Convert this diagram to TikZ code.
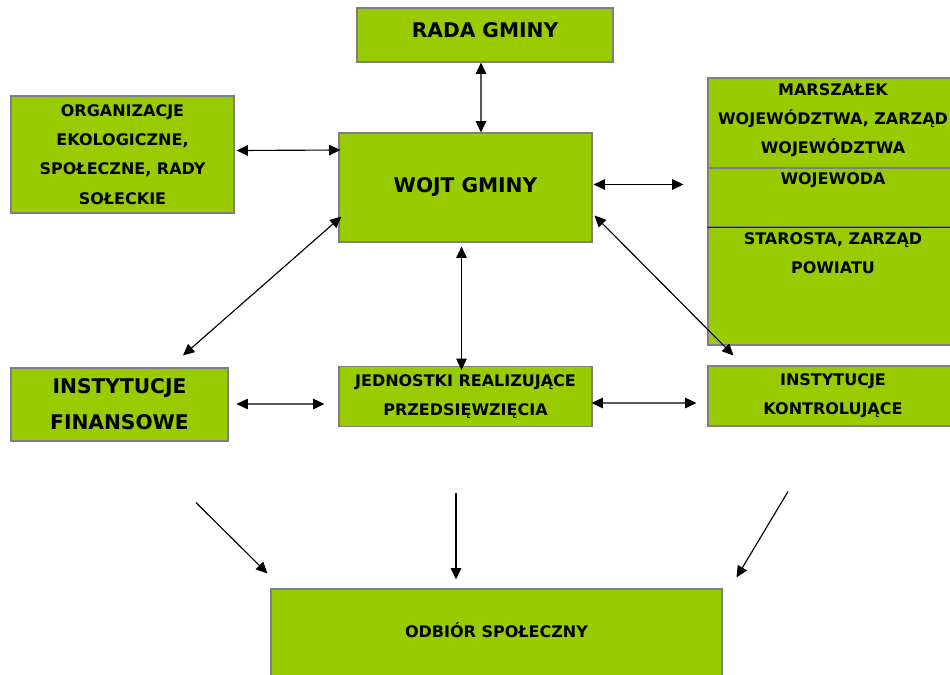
\documentclass[tikz,border=0pt]{standalone}
\usepackage{fontspec}
\setmainfont{DejaVu Sans}
\usetikzlibrary{arrows.meta,calc}
\definecolor{boxgreen}{HTML}{99CC00}
\definecolor{boxline}{HTML}{7F7F7F}
\def\px{0.02cm}
\newcommand\smallbold{\fontsize{9.1}{16.6}\selectfont\bfseries}
\newcommand\bigbold{\fontsize{11.5}{20.5}\selectfont\bfseries}
\tikzset{
  box/.style={draw=boxline, line width=0.6pt, fill=boxgreen, inner sep=0pt, align=center, font=\smallbold},
  boxtext/.style={inner sep=0pt, align=center, font=\smallbold},
  twoway/.style={{Triangle[length=6.5pt,width=6pt]}-{Triangle[length=6.5pt,width=6pt]}, line width=0.65pt},
  oneway/.style={-{Triangle[length=6.5pt,width=6pt]}, line width=0.65pt}
}

\begin{document}
\begin{tikzpicture}[x=\px,y=-\px]
  \useasboundingbox (0,0) rectangle (950,674);
  \clip (0,0) rectangle (950,674);
  % top row
  \node[box, minimum width=256*\px, minimum height=54*\px, font=\bigbold, text depth=0.2cm] (rada) at (485,35) {RADA GMINY};
  \node[box, minimum width=253*\px, minimum height=109*\px, font=\bigbold, text depth=0.1cm] (wojt) at (465.5,187.5) {WOJT GMINY};
  \node[box, minimum width=223*\px, minimum height=117*\px] (org) at (122.5,154.5)
    {ORGANIZACJE\\EKOLOGICZNE,\\SPOŁECZNE, RADY\\SOŁECKIE};
  % 
  \node[box, minimum width=250*\px, minimum height=90*\px] (marsz) at (833,123) {};
  \node[box, minimum width=250*\px, minimum height=59*\px] (wojew) at (833,197.5) {};
  \node[box, minimum width=250*\px, minimum height=118*\px] (staro) at (833,286) {};
  \draw[black!85, line width=0.6pt] (wojew.south west) -- (wojew.south east);
  \node[boxtext, anchor=north] (marsztxt) at (833,83) {MARSZAŁEK\\WOJEWÓDZTWA, ZARZĄD\\WOJEWÓDZTWA};
  \node[boxtext, anchor=north] (wojewtxt) at (833,172) {WOJEWODA};
  \node[boxtext, anchor=north] (starotxt) at (833,232) {STAROSTA, ZARZĄD\\POWIATU};
  % middle row
  \node[box, minimum width=217*\px, minimum height=73*\px, font=\bigbold] (finans) at (119.5,404.5)
    {INSTYTUCJE\\FINANSOWE};
  \node[box, minimum width=253*\px, minimum height=60*\px] (jedn) at (465.5,396.5)
    {JEDNOSTKI REALIZUJĄCE\\PRZEDSIĘWZIĘCIA};
  \node[box, minimum width=250*\px, minimum height=60*\px] (kontr) at (833,396)
    {INSTYTUCJE\\KONTROLUJĄCE};
  % bottom
  \node[box, minimum width=451*\px, minimum height=90*\px, text depth=0.16cm] (odbior) at (496.5,634) {ODBIÓR SPOŁECZNY};
  % 
  \draw[twoway] ($(rada.south)+(-4,0)$) -- ($(wojt.north)+(15.5,0)$);
  \draw[twoway] ($(org.east)+(2,-4)$) -- ($(wojt.west)+(2,-37.5)$);
  \draw[twoway] ($(wojt.east)+(1,-3)$) -- ($(wojt.east)+(91,-3)$);
  \draw[twoway] ($(wojt.south west)+(3,-26)$) -- ($(finans.north)+(63.5,-12)$);
  \draw[twoway] ($(wojt.south)+(-4,4)$) -- ($(jedn.north)+(-4,4)$);
  \draw[twoway] ($(wojt.south east)+(2,-27)$) -- ($(kontr.north west)+(26,-10)$);
  \draw[twoway] ($(finans.east)+(8,-0.5)$) -- ($(jedn.west)+(-14,7.5)$);
  \draw[twoway] ($(jedn.east)+(-1,6.5)$) -- ($(kontr.west)+(-11,7)$);
  % 
  \draw[oneway] ($(finans.south)+(76.5,61)$) -- ($(odbior.north west)+(-3,-15)$);
  \draw[oneway] ($(jedn.south)+(-9.5,66)$) -- ($(odbior.north)+(-40.5,-9)$);
  \draw[oneway] ($(kontr.south)+(-45,65)$) -- ($(odbior.north east)+(14,-11)$);
\end{tikzpicture}
\end{document}
